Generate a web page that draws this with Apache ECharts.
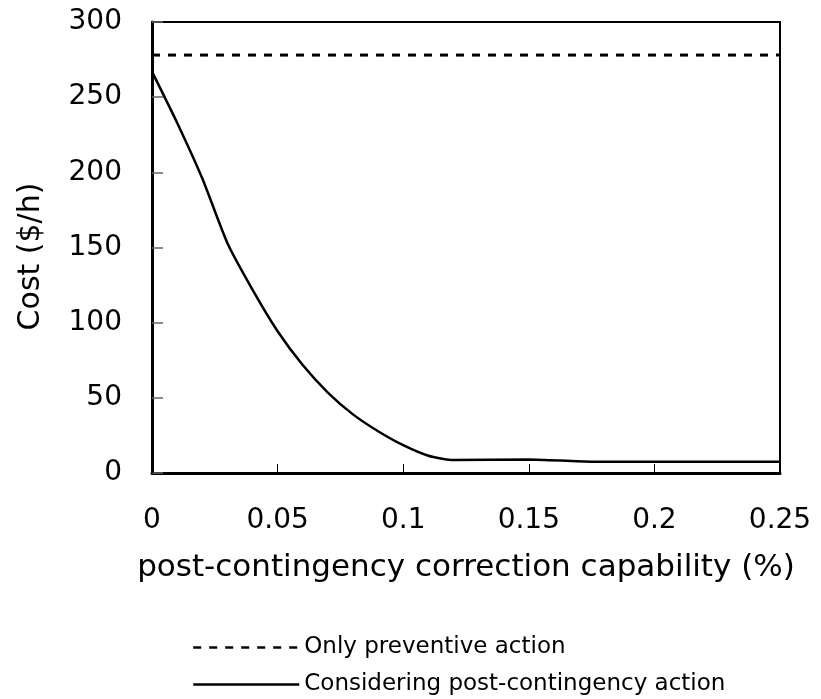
<!DOCTYPE html>
<html>
<head>
<meta charset="utf-8">
<title>Cost vs post-contingency correction capability</title>
<script src="https://cdn.jsdelivr.net/npm/echarts@6/dist/echarts.min.js"></script>
<style>
  html, body { margin: 0; padding: 0; background: #fff; }
  #chart { width: 821px; height: 699px; }
</style>
</head>
<body>
<div id="chart"></div>
<script>
// Correction capability (%) sampled along the x axis
const capability = [0, 0.01, 0.02, 0.03, 0.04, 0.05, 0.06, 0.07, 0.08, 0.09, 0.10, 0.11, 0.12, 0.15, 0.175, 0.2, 0.25];
// Cost ($/h) when post-contingency corrective action is considered
const costCorrective = [267, 233, 196, 153, 122, 94.3, 71.8, 53.5, 39, 27.8, 18.5, 11.5, 8.6, 9, 7.5, 7.5, 7.5];
// Cost ($/h) with preventive action only (flat over the whole range)
const preventiveRange = [0, 0.25];
const costPreventive = 278;

const seriesNames = ['Only preventive action', 'Considering post-contingency action'];
const xTicks = { min: 0, max: 0.25, interval: 0.05 };
const yTicks = { min: 0, max: 300, interval: 50 };

const font = 'DejaVu Sans';

// One legend block per series so the entries stack as two rows
function legendRow(name, top) {
  return {
    orient: 'vertical',
    left: 192, top: top,
    padding: 0,
    itemWidth: 106, itemHeight: 24,
    itemStyle: { opacity: 0 },
    lineStyle: { width: 2.5 },
    textStyle: { fontFamily: font, fontSize: 23, color: '#000' },
    data: [name]
  };
}

const chart = echarts.init(document.getElementById('chart'), null, { renderer: 'canvas' });

chart.setOption({
  backgroundColor: '#ffffff',
  animation: false,
  grid: {
    left: 152, right: 41, top: 22, bottom: 226,
    show: true, borderColor: '#000', borderWidth: 2, backgroundColor: 'transparent'
  },
  legend: [legendRow(seriesNames[0], 636), legendRow(seriesNames[1], 673)],
  xAxis: {
    type: 'value',
    min: xTicks.min, max: xTicks.max, interval: xTicks.interval,
    name: 'post-contingency correction capability (%)',
    nameLocation: 'middle', nameGap: 79,
    nameTextStyle: { fontFamily: font, fontSize: 31, color: '#000' },
    axisLine: { show: true, lineStyle: { color: '#000', width: 3 } },
    axisTick: { show: true, inside: true, length: 9, lineStyle: { color: '#000', width: 1 } },
    axisLabel: {
      margin: 34, fontFamily: font, fontSize: 28, color: '#000',
      formatter: v => String(Math.round(v * 1000) / 1000)
    },
    splitLine: { show: false }
  },
  yAxis: {
    type: 'value',
    min: yTicks.min, max: yTicks.max, interval: yTicks.interval,
    name: 'Cost ($/h)',
    nameLocation: 'middle', nameGap: 106,
    nameTextStyle: { fontFamily: font, fontSize: 30, color: '#000', padding: [0, 18, 0, 0] },
    axisLine: { show: true, lineStyle: { color: '#000', width: 3 } },
    axisTick: { show: true, inside: true, length: 11, lineStyle: { color: '#666', width: 1.5 } },
    axisLabel: { margin: 30, fontFamily: font, fontSize: 28, color: '#000' },
    splitLine: { show: false }
  },
  series: [
    {
      name: seriesNames[0],
      type: 'line',
      symbol: 'none',
      data: preventiveRange.map(x => [x, costPreventive]),
      lineStyle: { color: '#000', width: 3, type: [8, 8] },
      itemStyle: { color: 'rgba(0,0,0,0)' }
    },
    {
      name: seriesNames[1],
      type: 'line',
      symbol: 'none',
      smooth: 0.2,
      data: capability.map((x, i) => [x, costCorrective[i]]),
      lineStyle: { color: '#000', width: 2.5, type: 'solid' },
      itemStyle: { color: 'rgba(0,0,0,0)' }
    }
  ]
});
</script>
</body>
</html>
